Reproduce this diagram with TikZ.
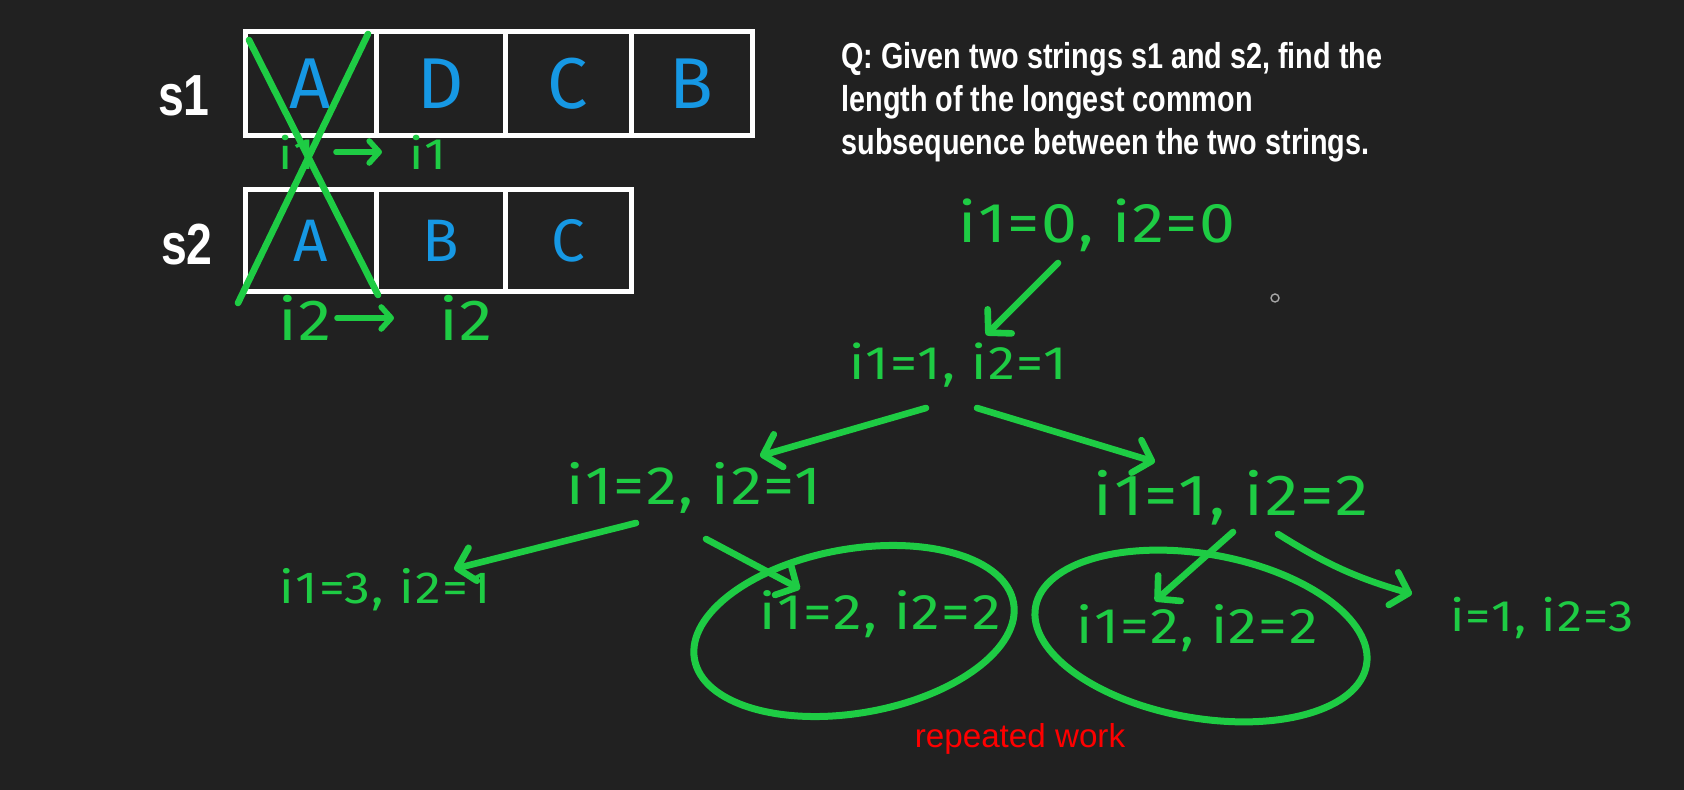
\documentclass[tikz,border=0pt]{standalone}
\usepackage{fontspec}
\setmainfont{Liberation Sans}
\newfontfamily\condfont[FakeStretch=0.80]{Liberation Sans}
\newfontfamily\handfont[FakeStretch=1.15,LetterSpace=3]{Fira Sans}
\newfontfamily\cellfont{Fira Sans}
\usetikzlibrary{arrows.meta,calc}
\definecolor{bg}{RGB}{33,33,33}
\definecolor{gr}{RGB}{30,204,68}
\definecolor{bl}{RGB}{22,152,228}
\definecolor{rd}{RGB}{255,0,0}
\begin{document}
\begin{tikzpicture}[x=0.5pt,y=-0.5pt,
  cell/.style={draw=white,line width=2.5pt,inner sep=0pt,text=bl},
  lbl/.style={text=white,font=\condfont\bfseries\fontsize{29}{29}\selectfont,inner sep=0pt},
  gl/.style={text=gr,inner sep=0pt},
  pen/.style={draw=gr,line width=3.3pt,line cap=round,line join=round},
  arr/.style={pen,-{Straight Barb[length=8pt,width=17pt,round]}},
  sarr/.style={pen,line width=2.8pt,-{Straight Barb[length=5pt,width=11pt,round]}},
  ring/.style={pen,line width=3.5pt}]
\fill[bg] (0,0) rectangle (1684,790);
\useasboundingbox (0,0) rectangle (1684,790);

% array s1
\node[lbl] (s1) at (184,96) {s1};
\node[cell,minimum width=65.5pt,minimum height=52pt,font=\cellfont\fontsize{36}{36}\selectfont] (a1) at (310.5,84) {A};
\node[cell,minimum width=64.5pt,minimum height=52pt,font=\cellfont\fontsize{36}{36}\selectfont] (a2) at (440.5,84) {D};
\node[cell,minimum width=63pt,minimum height=52pt,font=\cellfont\fontsize{36}{36}\selectfont] (a3) at (568,84) {C};
\node[cell,minimum width=60.5pt,minimum height=52pt,font=\cellfont\fontsize{36}{36}\selectfont] (a4) at (691.5,84) {B};

% array s2
\node[lbl] (s2) at (187,245) {s2};
\node[cell,minimum width=65.5pt,minimum height=51pt,font=\cellfont\fontsize{30}{30}\selectfont] (b1) at (310.5,241) {A};
\node[cell,minimum width=64.5pt,minimum height=51pt,font=\cellfont\fontsize{30}{30}\selectfont] (b2) at (440.5,241) {B};
\node[cell,minimum width=63pt,minimum height=51pt,font=\cellfont\fontsize{30}{30}\selectfont] (b3) at (568,241) {C};

% cross-out of the first column
\draw[pen] (249,40) -- (378,295);
\draw[pen] (368,34) -- (238,303);

% pointer labels
\node[gl,font=\handfont\fontsize{22}{22}\selectfont] (p1a) at (297,152) {i1};
\node[gl,font=\handfont\fontsize{22}{22}\selectfont] (p1b) at (428,152) {i1};
\draw[sarr,shorten <=19.5pt,shorten >=23pt] (p1a.center) -- (p1b.center);
\node[gl,font=\handfont\fontsize{29}{29}\selectfont] (p2a) at (305,318) {i2};
\node[gl,font=\handfont\fontsize{29}{29}\selectfont] (p2b) at (466,318) {i2};
\draw[sarr,shorten <=16pt,shorten >=36pt] (p2a.center) -- (p2b.center);

% question
\node[anchor=north west,inner sep=0pt,align=left,text=white,
      font=\condfont\bfseries\fontsize{18}{21.5}\selectfont] (q) at (841,42)
 {Q: Given two strings s1 and s2, find the\\length of the longest common\\subsequence between the two strings.};

% recursion tree
\node[gl,font=\handfont\fontsize{28}{28}\selectfont] (n0) at (1097,225) {i1=0, i2=0};
\node[gl,font=\handfont\fontsize{23.5}{23.5}\selectfont] (n1) at (958,365) {i1=1, i2=1};
\node[gl,font=\handfont\fontsize{27}{27}\selectfont] (n2) at (694,488) {i1=2, i2=1};
\node[gl,font=\handfont\fontsize{29}{29}\selectfont] (n3) at (1231,498) {i1=1, i2=2};
\node[gl,font=\handfont\fontsize{22.5}{22.5}\selectfont] (n4) at (385,590) {i1=3, i2=1};
\node[gl,font=\handfont\fontsize{25}{25}\selectfont] (n5) at (880,614) {i1=2, i2=2};
\node[gl,font=\handfont\fontsize{25}{25}\selectfont] (n6) at (1197,628) {i1=2, i2=2};
\node[gl,font=\handfont\fontsize{22}{22}\selectfont] (n7) at (1542,618) {i=1, i2=3};

\draw[arr] ([shift={(-39,38)}]n0.center) -- ([shift={(28,-30)}]n1.center);
\draw[arr] ([shift={(-32,43)}]n1.center) -- ([shift={(66,-32)}]n2.center);
\draw[arr] ([shift={(19,43)}]n1.center) -- ([shift={(-76,-36)}]n3.center);
\draw[arr] ([shift={(-58,35)}]n2.center) -- ([shift={(69,-21)}]n4.center);
\draw[arr] ([shift={(12,51)}]n2.center) -- ([shift={(-80,-25)}]n5.center);
\draw[arr] ([shift={(2,34)}]n3.center) -- ([shift={(-42,-27)}]n6.center);
\draw[arr] ([shift={(47,36)}]n3.center) to[bend right=8] ([shift={(-130,-24)}]n7.center);

% repeated-work rings
\draw[ring,rotate around={10:(854,631)}] (854,631) ellipse [x radius=81pt, y radius=41pt];
\draw[ring,rotate around={-10:(1201,636)}] (1201,636) ellipse [x radius=84pt, y radius=41pt];

\node[text=rd,inner sep=0pt,anchor=base,font=\fontsize{16.6}{16.6}\selectfont] (rep) at (1020,747) {repeated work};

% cursor
\draw[gray!70,line width=0.7pt] (1275,298) circle [radius=2pt];
\end{tikzpicture}
\end{document}
